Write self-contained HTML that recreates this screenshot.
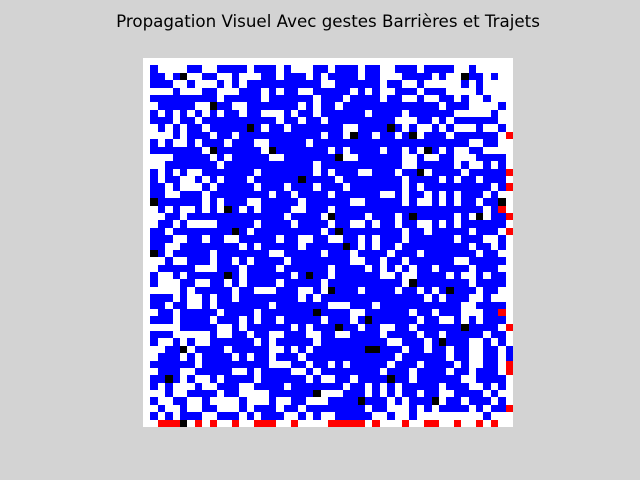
<!DOCTYPE html>
<html><head><meta charset="utf-8">
<style>
html,body{margin:0;padding:0;background:#d3d3d3;}
#wrap{position:relative;width:640px;height:480px;background:#d3d3d3;overflow:hidden;}
#title{position:absolute;left:0;top:11px;width:656px;text-align:center;font-family:"DejaVu Sans","Liberation Sans",sans-serif;font-size:16.7px;color:#000;white-space:nowrap;}
svg{position:absolute;left:0;top:0;}
</style></head>
<body>
<div id="wrap">
<div id="title">Propagation Visuel Avec gestes Barrières et Trajets</div>
<svg id="svg" width="640" height="480" shape-rendering="crispEdges">
<rect x="143" y="58" width="370" height="369" fill="#ffffff"></rect>
<g id="cells"></g>
</svg>
</div>
<script>
// Grid states: '.' empty (white), 'b' healthy (blue), 'k' infected (black), 'r' removed (red)
const gridRowsA = [
"..................................................",
".b....bb..bbbb.bbb.b...bb.bbb.bb..bbb.bbbb..b.....",
".bb.bk..bb..b...bb.bbb.b.bbbb.bb...bbbb.b..kbb.b..",
".bbb..b...b.b.bbbbbbbbbb..bbbbbb.bb..b.....b.b....",
"....b...bb...bbb.b.bb..bbbbb.b.b..bbb.bbb....b....",
".bbbbbbbbb.bbbbb.bbbbbb.bbb.bbbb.bb..b..bb.b..b...",
"..bbbbb..kbb..bbbbbbb.b.bb.bbbbbbbbbbbbb.bbb....b.",
".b.b.b.b.b.bb.bb...b.bb.bbbbbb.bbbb.bbbbbb.....b..",
".bbb.bb.bbbbbbbbbb.bb.bb.bbbbbbbbb...bb.b.bbbbbb..",
"..b.b.bb.bbbbbkb.bb.bbbbbbb..bbbbkb.b..b.b...b..b.",
"....b.bbb.bb.bbbbbbbbbbb.bb.kbb.bb.bk.bbb.bbbbbb.r",
".b.b..b.bbb.bbb..bbbbb.bbbbbbbbbbbbbbbbbbbbb..bb..",
".bbbbbbb.kbbbbbb.kbbbbbbb.b.bbbb.bb.b.kb.b..bb....",
"....bbbbb.b.bbbbb..bbbbbbbk..bbbbbb..b..bb...bbbb.",
"...bbbbbbb.bbbbbbbbbbbb.bbbbbbbbbbb..bbbbb.b..b.b.",
".b.b.b..bbbbbbb.bbbbbbb.b.bbb..bbb.bbk.bbbb.bbbbbr",
".b.bb..b.b.bbb.bbbbbbkbbbb.bbbbbbbb.bbbb.b.bb.bbb.",
".bb.b...b.bbbbb.bbb.bbb.bbb.bbbbbbb.b.bbbbbbbbb.br",
".bb..bbb.bbbbbbbb.bb.bbbb.bbbbbb..b.bb.b.b.bbb.b..",
".kbbbbbb.b.bbb..bbbbb.bbbbbb..bbbbb.b..b.b.bb.bbk."
];
const gridRowsB = [
"..b.b..b.b.kb.b.bbbb..bbb.bbbbbbbbbbbbbbbbbbbb.br",
"...bb.bbbbbbbbbbbbb.bbbb.kbbbb.bbb.bkbbbbb.b.k.bbr",
"..bb.b....bbbbb.bbbb.bbbb.bb..b.bb.bb..b.b.bbbbbb.",
".bb.bbbbbbbbkb.bbbbbbbbb.bkbbbbbbbb.bb.bbbbb.bbb.r",
".bbb..bb.bb..bbbbb.bb..bb..bb.b.bbb.bbbbbb.bbb..b.",
".bb..bbbbbbbb.b.bbbbb.bbbbbkb.b.bb.bbbbbbbbb.bb.b.",
".kb.bbbbb.bbbbbbb..bbbbb.bbb.bbbb.bbb.bbbbbbb.bb..",
"...b..bbb.bb.b.bbbb.bbbbbbbb..bb.bb.bbbbbb..bbbbb.",
"..bbbbb...bbb.bbbb.bbbbbb.bbbb.b.b.b.bb.bbbb.bbb..",
".b..b.bbbbbkb.bbbbbb.bkbb.bbbbbb..b..bbbb.b..b.bb.",
".b...bb..bb.b.bbbb.bbbbb.bbbbbbbbbb.kbbbbbbb.bbbb.",
".....b.bbbbb.bb...bbb..b.kbbb.bbbb.bb.b.bkbbb.bb..",
".bbb.b..b.bb.bbbbbbbb.b.bbbbbbbbbbbbbb.b.bbb..b...",
".bb.bb..b.bbbbbbb.bbbbbbb...bbb.bbbbbbbbbbb..bbbb.",
"..bb.bbbbb.bbbb.bbbbbbbkbbbb..bbbbbb.bb.bbb...bbr",
".bbb.bbbb.bbb.b.bb.bbbbb.bbb.bkbbbbbb.bb..b.b.bbb.",
".....bbbbb..b.bbbbbb.b.bbbkbb.bb..bb.bbbbbbkbbbb.r",
".bbb.....b..bb.bb..bbb..bb..bbbb.bbbb.bb.bbbbb.bb.",
".b..b.b..bbbbbb.b.bbbbb.bbbbbbbbb..bbb.bkbbb..b.b.",
"...bbk.bbbb.bbbbb..b.b.bbbbbbbkkbbb.bb.bb.bb..bb.b."
];
const gridRowsC = [
"..bbb.b.bbbb.b.bb.bbb.bbbbbbbbbbbb.bbbbbb.bb..bb.b.",
".bbbbbb.bbbbbbbbb...bb.bb.b.bbbbb.bbb.bbbb.b..bb.r",
"..bbb..bbbbb..b.bbbb..b.bbbbbbbb.bbb.bbbb.bb.bbb.r",
".bbkb.b..b.bbbb.bbbbbb.b..bb.bbbbkbb.bbbbbb..bbbb.",
".b.b...b..bbb..bbbb.bbbbbbb.bb.b.b.bbbbb.bbb..b.b.",
"...b..bbbb.bb....bbbbbbk...bbb.b.b.bb.bb..bbbb.b..",
".b..bb..b....b...b..bb...bbbbkbbb.b.bbbk.bb.bbb.b.",
"..b..b..bb...b.bbb.bb.bbbbbbbb.bb...b.b.bbbb.b.bbr",
".b.b.bbb..bbb.b.bbb..b.b..bbbbb..b..b.........b...",
"..rrrk.r.r..r..rrr..r....rrrrr.r...r..rr..r..r.r.."
];
const categoriesRows = gridRowsA.concat(gridRowsB, gridRowsC);
const stateColors = {'.':'#ffffff','b':'#0000ff','k':'#000000','r':'#ff0000'};
const stateNames = {'b':'healthy-cell','k':'infected-cell','r':'removed-cell'};

const N = 50;
const X0 = 143, Y0 = 58, W = 370, H = 369;
function xScale(c){ return X0 + c * W / N; }
function yScale(r){ return Y0 + r * H / N; }

const g = document.getElementById('cells');
const NS = 'http://www.w3.org/2000/svg';
for (let r = 0; r < N; r++) {
  let row = (categoriesRows[r] || '');
  for (let c = 0; c < N; c++) {
    const s = row[c] || '.';
    if (s === '.') continue;
    const x0 = xScale(c), x1 = xScale(c + 1), y0 = yScale(r), y1 = yScale(r + 1);
    const el = document.createElementNS(NS, 'rect');
    el.setAttribute('x', Math.round(x0));
    el.setAttribute('y', Math.round(y0));
    el.setAttribute('width', Math.round(x1) - Math.round(x0));
    el.setAttribute('height', Math.round(y1) - Math.round(y0));
    el.setAttribute('fill', stateColors[s] || '#0000ff');
    
    
    g.appendChild(el);
  }
}
</script>
</body></html>
